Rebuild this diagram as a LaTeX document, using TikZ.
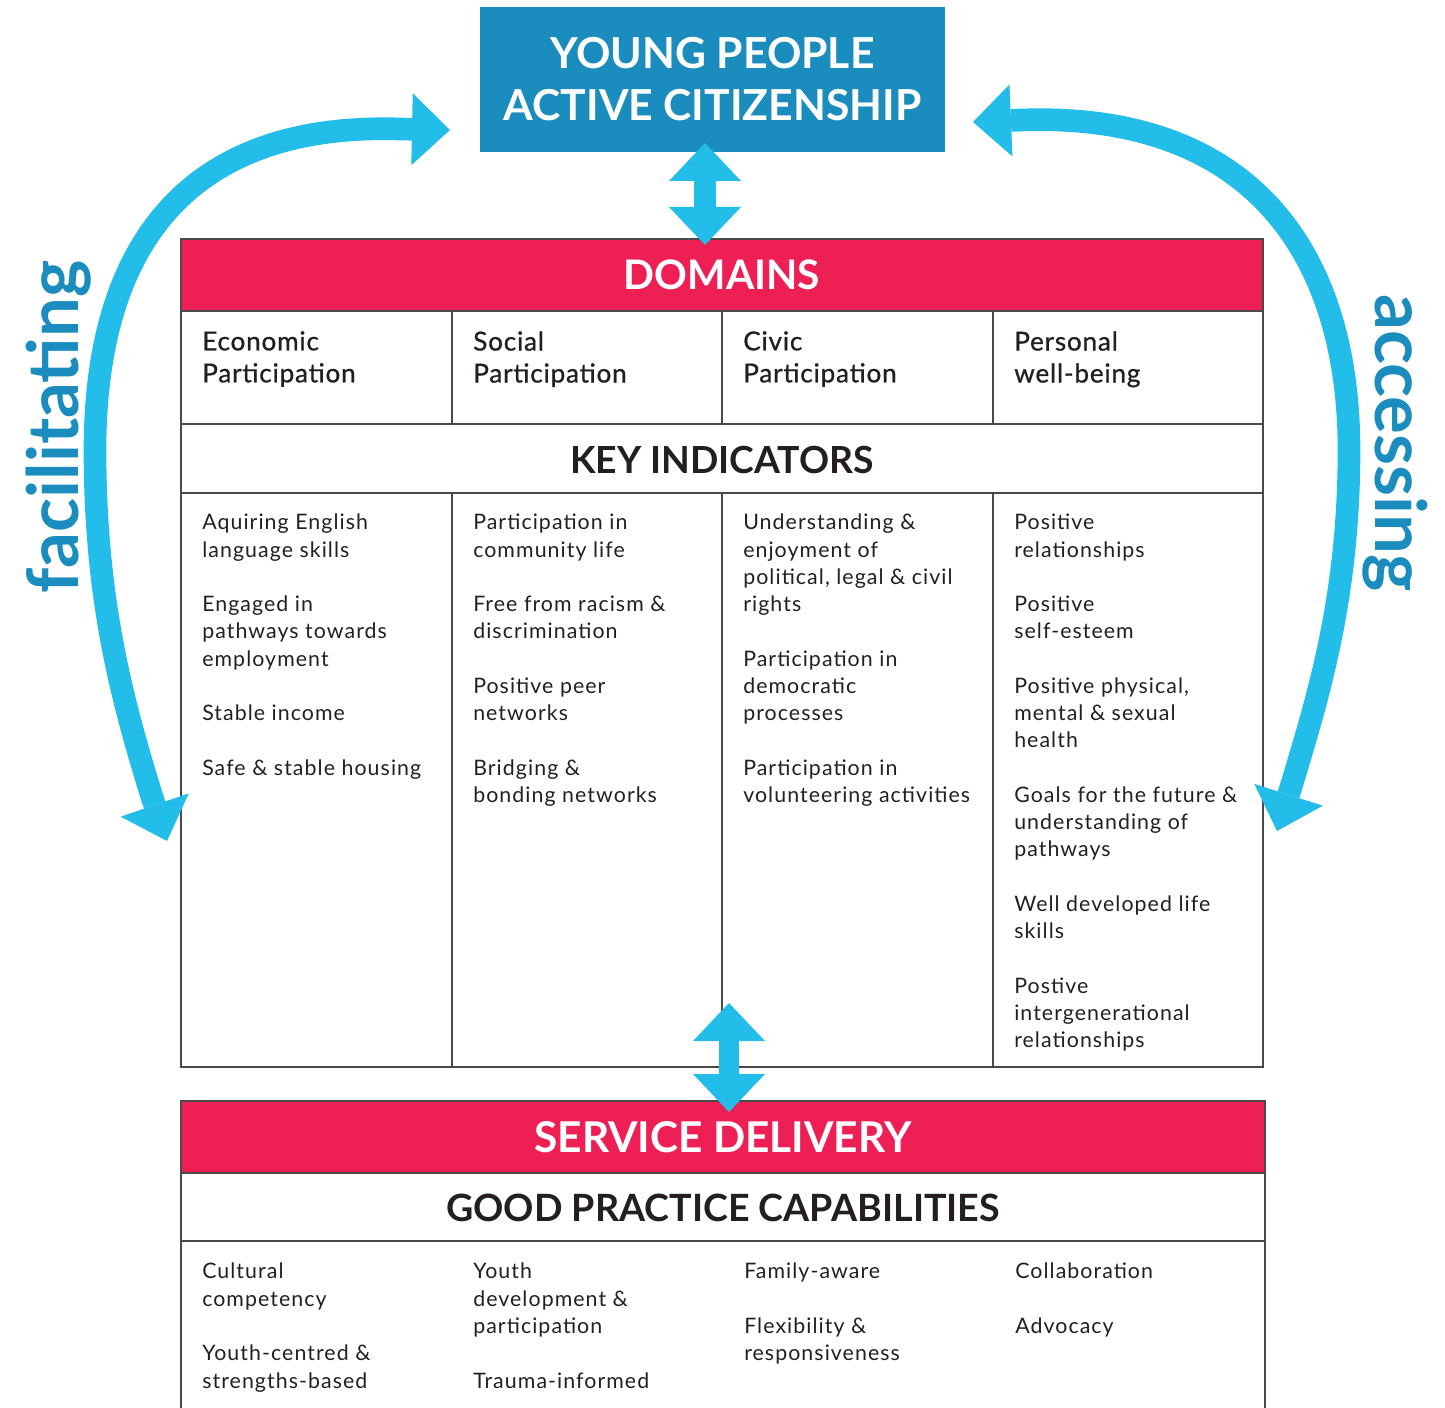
\documentclass[tikz,border=0pt]{standalone}
\usepackage{fontspec}
\setmainfont{Lato}
\newfontfamily\bodyfam{Lato}[LetterSpace=5]
\newfontfamily\medfam{Lato}[FakeBold=0.8,LetterSpace=3]
\usetikzlibrary{arrows.meta}
\definecolor{topblue}{HTML}{1A8CBD}
\definecolor{cyanarrow}{HTML}{22BDE8}
\definecolor{hdrred}{HTML}{EE1F55}
\definecolor{ink}{HTML}{231F20}
\definecolor{rulegray}{HTML}{4A4A4A}
\newcommand\fbody{\bodyfam\fontsize{16pt}{20.44pt}\selectfont}
\newcommand\fdom{\medfam\fontsize{19.6pt}{24pt}\selectfont}
\tikzset{
  headtip/.tip={Triangle[width=54pt,length=28.5pt,line width=0pt]},
  gridline/.style={draw=rulegray, line width=1pt},
  redhdr/.style={fill=hdrred, draw=rulegray, line width=1pt, text=white, inner sep=0pt},
  subhdr/.style={text=ink, font=\bfseries\fontsize{28pt}{32pt}\selectfont, inner sep=0pt},
  coltext/.style={anchor=north west, inner sep=0pt, align=left, text=ink, font=\fbody},
  domtext/.style={anchor=north west, inner sep=0pt, align=left, text=ink, font=\fdom},
  bigarrow/.style={draw=cyanarrow, line width=17pt, headtip-headtip},
  sidelabel/.style={text=topblue, font=\bfseries\fontsize{53pt}{60pt}\selectfont, inner sep=0pt}
}
\begin{document}
\begin{tikzpicture}[x=0.75pt,y=-0.75pt]
\useasboundingbox (0,0) rectangle (1445,1408);
% top box
\node[fill=topblue, text=white, minimum width=348.75pt, minimum height=108.75pt,
  align=center, font=\bfseries\fontsize{32pt}{39pt}\selectfont, inner sep=0pt]
  (top) at (712.5,79.5) {YOUNG PEOPLE\\ACTIVE CITIZENSHIP};
% DOMAINS block
\node[redhdr, minimum width=811.5pt, minimum height=54pt,
  font=\bfseries\fontsize{30.5pt}{36pt}\selectfont] (dom) at (722,275) {DOMAINS};
\draw[gridline] (181,311) rectangle (1263,424);
\draw[gridline] (181,424) rectangle (1263,493);
\draw[gridline] (181,493) rectangle (1263,1067);
\foreach \cx in {452,722,993}{
  \draw[gridline] (\cx,311) -- (\cx,424);
  \draw[gridline] (\cx,493) -- (\cx,1067);
}
\node[domtext] (d1) at (202,331) {Economic\\Participation};
\node[domtext] (d2) at (473,331) {Social\\Participation};
\node[domtext] (d3) at (743,331) {Civic\\Participation};
\node[domtext] (d4) at (1014,331) {Personal\\well-being};
\node[subhdr] (ki) at (722,460) {KEY INDICATORS};
\node[coltext] (c1) at (202,514) {Aquiring English\\language skills\\[20.44pt]Engaged in\\pathways towards\\employment\\[20.44pt]Stable income\\[20.44pt]Safe \& stable housing};
\node[coltext] (c2) at (473,514) {Participation in\\community life\\[20.44pt]Free from racism \&\\discrimination\\[20.44pt]Positive peer\\networks\\[20.44pt]Bridging \&\\bonding networks};
\node[coltext] (c3) at (743,514) {Understanding \&\\enjoyment of\\political, legal \& civil\\rights\\[20.44pt]Participation in\\democratic\\processes\\[20.44pt]Participation in\\volunteering activities};
\node[coltext] (c4) at (1014,514) {Positive\\relationships\\[20.44pt]Positive\\self-esteem\\[20.44pt]Positive physical,\\mental \& sexual\\health\\[20.44pt]Goals for the future \&\\understanding of\\pathways\\[20.44pt]Well developed life\\skills\\[20.44pt]Postive\\intergenerational\\relationships};
% SERVICE DELIVERY block
\node[redhdr, minimum width=813pt, minimum height=54pt,
  font=\bfseries\fontsize{31.8pt}{36pt}\selectfont] (sd) at (723,1137) {SERVICE DELIVERY};
\draw[gridline] (181,1173) rectangle (1265,1241);
\draw[gridline] (181,1241) -- (181,1408);
\draw[gridline] (1265,1241) -- (1265,1408);
\node[subhdr, font=\bfseries\fontsize{28.2pt}{32pt}\selectfont] (gp) at (723,1208) {GOOD PRACTICE CAPABILITIES};
\node[coltext] (b1) at (202,1263) {Cultural\\competency\\[20.44pt]Youth-centred \&\\strengths-based};
\node[coltext] (b2) at (473,1263) {Youth\\development \&\\participation\\[20.44pt]Trauma-informed};
\node[coltext] (b3) at (744,1263) {Family-aware\\[20.44pt]Flexibility \&\\responsiveness};
\node[coltext] (b4) at (1015,1263) {Collaboration\\[20.44pt]Advocacy};
% straight double arrows
\coordinate (ta) at (705,143);
\coordinate (tb) at (705,245);
\draw[bigarrow, line width=16.5pt] (ta) -- (tb);
\coordinate (ba) at (729,1003);
\coordinate (bb) at (729,1112);
\draw[bigarrow, line width=15pt] (ba) -- (bb);
% curved arrows
\coordinate (lt) at (450,130);
\coordinate (lb) at (167,841);
\draw[bigarrow] (lt) -- (400,129) .. controls (175,122) and (95,260) .. (95,450)
  .. controls (95,600) and (122,700) .. (152,797) -- (lb);
\coordinate (rt) at (973,122);
\coordinate (rb) at (1277,831);
\draw[bigarrow] (rt) -- (1022,120) .. controls (1257,112) and (1349,260) .. (1349,450)
  .. controls (1349,600) and (1317,700) .. (1291,787) -- (rb);
\node[sidelabel, rotate=90] (fac) at (59,427) {facilitating};
\node[sidelabel, rotate=-90] (acc) at (1395,443) {accessing};
\end{tikzpicture}
\end{document}
